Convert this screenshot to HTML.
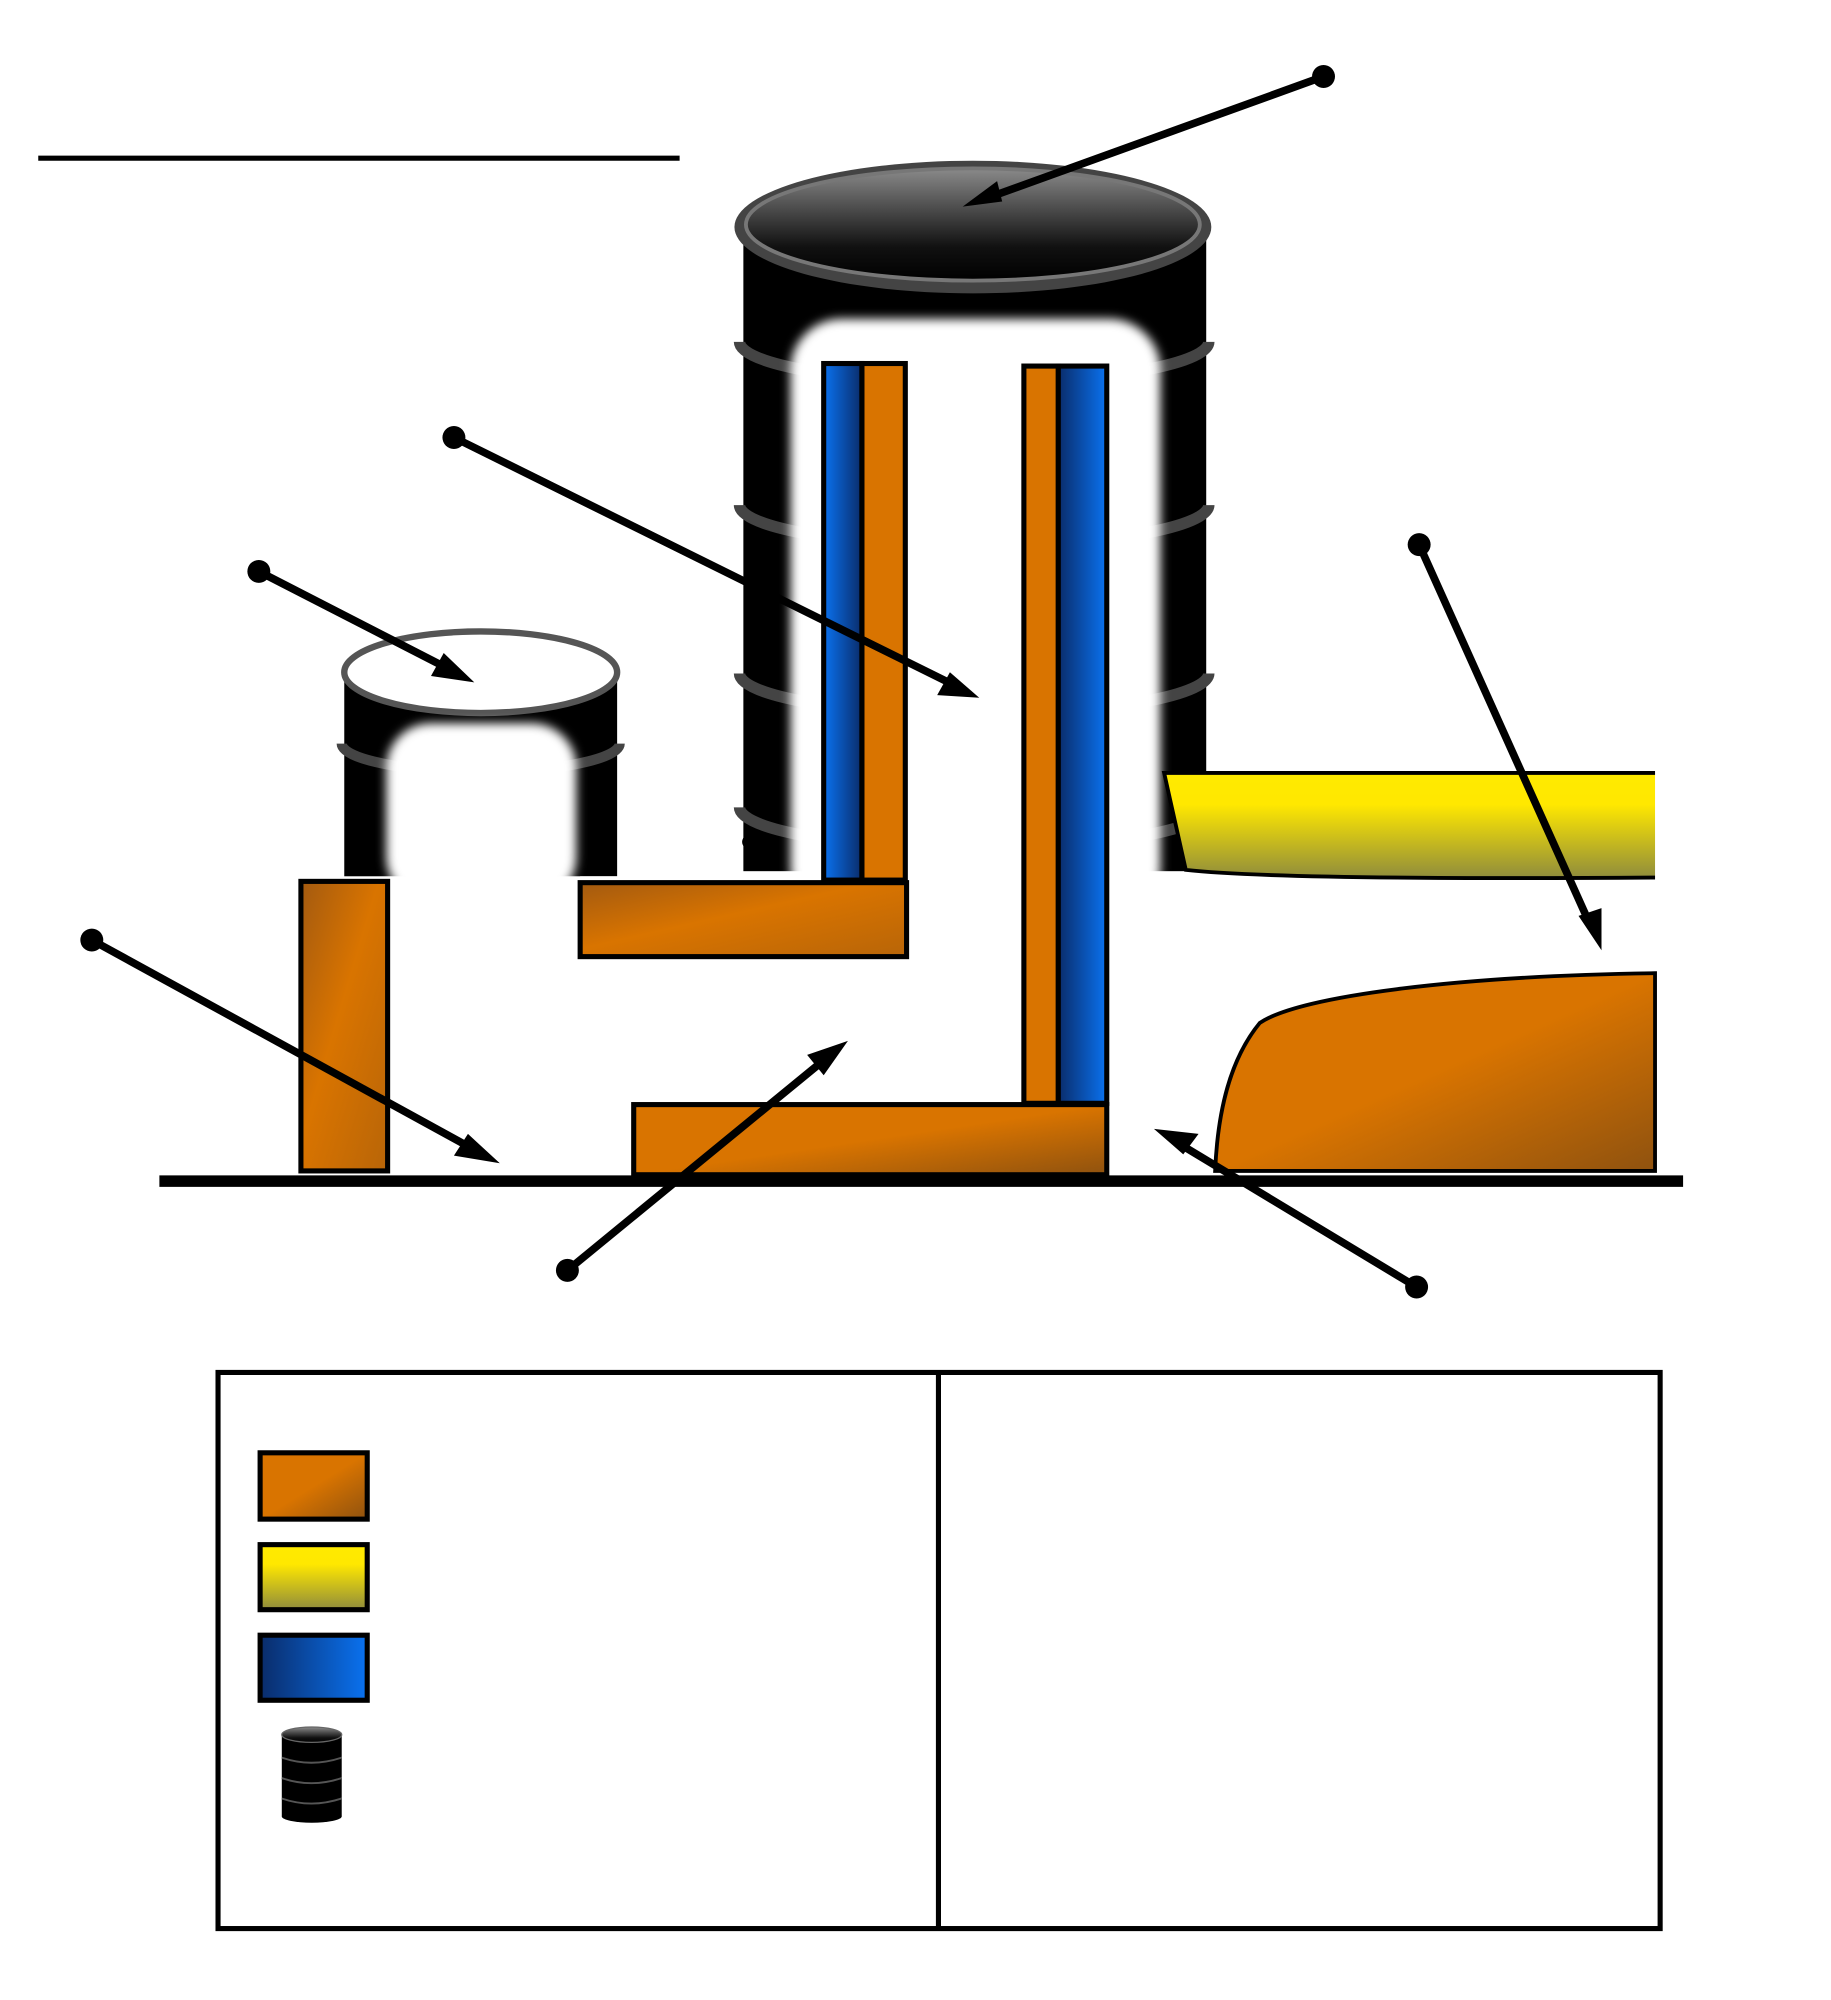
<!DOCTYPE html>
<html><head><meta charset="utf-8"><style>html,body{margin:0;padding:0;background:#fff}svg{display:block}</style></head>
<body>
<svg width="1831" height="2000" viewBox="0 0 1436 1568" preserveAspectRatio="none" xmlns="http://www.w3.org/2000/svg">
<defs>
<linearGradient id="or" x1="0" y1="0" x2="1" y2="1"><stop offset="0" stop-color="#a35a10"/><stop offset="0.45" stop-color="#d97400"/><stop offset="1" stop-color="#b86508"/></linearGradient>
<linearGradient id="or2" x1="0" y1="0" x2="1" y2="1"><stop offset="0" stop-color="#d97400"/><stop offset="0.5" stop-color="#d97400"/><stop offset="1" stop-color="#8f520f"/></linearGradient>
<linearGradient id="ye" x1="0" y1="0" x2="0" y2="1"><stop offset="0" stop-color="#ffea00"/><stop offset="0.3" stop-color="#ffe800"/><stop offset="1" stop-color="#8f8c3c"/></linearGradient>
<linearGradient id="bl" x1="0" y1="0" x2="1" y2="0"><stop offset="0" stop-color="#0a2c6a"/><stop offset="1" stop-color="#0a72f0"/></linearGradient>
<linearGradient id="bl2" x1="1" y1="0" x2="0" y2="0"><stop offset="0" stop-color="#0a2c6a"/><stop offset="1" stop-color="#0a72f0"/></linearGradient>
<linearGradient id="top" x1="0" y1="0" x2="0" y2="1"><stop offset="0" stop-color="#8a8a8a"/><stop offset="0.7" stop-color="#111"/><stop offset="1" stop-color="#000"/></linearGradient>
<filter id="blur"><feGaussianBlur stdDeviation="4"/></filter>
</defs>
<line x1="30" y1="124" x2="533" y2="124" stroke="#000" stroke-width="4"/>
<!-- big barrel -->
<rect x="583" y="178" width="363" height="505" fill="#000"/>
<ellipse cx="764" cy="660" rx="182" ry="30" fill="#000"/>
<g fill="none" stroke="#444" stroke-width="9">
<path d="M580,268 A184,32 0 0 0 948,268"/>
<path d="M580,396 A184,32 0 0 0 948,396"/>
<path d="M580,528 A184,32 0 0 0 948,528"/>
<path d="M580,633 A184,32 0 0 0 948,633"/>
</g>
<ellipse cx="763" cy="178" rx="187" ry="52" fill="#444"/>
<ellipse cx="763" cy="176" rx="178" ry="44" fill="url(#top)" stroke="#777" stroke-width="3"/>
<rect x="620" y="250" width="290" height="470" rx="40" fill="#fff" filter="url(#blur)"/>
<!-- small barrel -->
<rect x="270" y="527" width="214" height="160" fill="#000"/>
<path d="M268,583 A109,22 0 0 0 486,583" fill="none" stroke="#444" stroke-width="8"/>
<ellipse cx="377" cy="527" rx="107" ry="32" fill="#fff" stroke="#555" stroke-width="5"/>
<rect x="303" y="567" width="149" height="140" rx="35" fill="#fff" filter="url(#blur)"/>
<rect x="455" y="687" width="40" height="8" fill="#fff"/>
<g stroke="#000" stroke-width="4">
<rect x="236" y="691" width="68" height="227" fill="url(#or)"/>
<rect x="455" y="692" width="256" height="58" fill="url(#or)"/>
<rect x="646" y="285" width="30" height="405" fill="url(#bl2)"/>
<rect x="676" y="285" width="34" height="405" fill="#d97400"/>
<rect x="803" y="287" width="27" height="578" fill="#d97400"/>
<rect x="830" y="287" width="38" height="578" fill="url(#bl)"/>
<rect x="497" y="866" width="371" height="55" fill="url(#or2)"/>
<path d="M913,606 L1298,606 L1298,688 Q1000,690 930,682 Z" fill="url(#ye)" stroke="none"/>
<path d="M1298,606 L913,606 L930,682 Q1000,690 1298,688" fill="none" stroke-width="3"/>
<path d="M953,918 C955,870 965,830 988,802 C1020,780 1150,765 1298,763 L1298,918 Z" fill="url(#or2)" stroke-width="3"/>
</g>
<line x1="125" y1="926" x2="1320" y2="926" stroke="#000" stroke-width="9"/>
<!-- arrows -->
<g stroke="#000" stroke-width="6" fill="#000">
<line x1="1038" y1="60" x2="775" y2="155"/><circle cx="1038" cy="60" r="9" stroke="none"/>
<line x1="356" y1="343" x2="750" y2="538"/><circle cx="356" cy="343" r="9" stroke="none"/>
<line x1="203" y1="448" x2="355" y2="526"/><circle cx="203" cy="448" r="9" stroke="none"/>
<line x1="1113" y1="427" x2="1248" y2="727"/><circle cx="1113" cy="427" r="9" stroke="none"/>
<line x1="72" y1="737" x2="375" y2="903"/><circle cx="72" cy="737" r="9" stroke="none"/>
<line x1="445" y1="996" x2="650" y2="828"/><circle cx="445" cy="996" r="9" stroke="none"/>
<line x1="1111" y1="1009" x2="922" y2="895"/><circle cx="1111" cy="1009" r="9" stroke="none"/>
</g>
<g fill="#000">
<polygon points="755,162 782,142 786,158"/>
<polygon points="768,547 735,545 745,527"/>
<polygon points="372,535 338,530 348,512"/>
<polygon points="1256,745 1238,718 1256,712"/>
<polygon points="392,912 356,906 367,889"/>
<polygon points="665,816 646,843 633,827"/>
<polygon points="905,885 940,889 928,905"/>
</g>
<!-- legend -->
<g stroke="#000" stroke-width="4">
<rect x="171" y="1076" width="1131" height="436" fill="none"/>
<line x1="736" y1="1076" x2="736" y2="1512"/>
<rect x="204" y="1139" width="84" height="52" fill="url(#or2)"/>
<rect x="204" y="1211" width="84" height="51" fill="url(#ye)"/>
<rect x="204" y="1282" width="84" height="51" fill="url(#bl)"/>
</g>
<rect x="221" y="1360" width="47" height="64" fill="#000"/>
<ellipse cx="244.5" cy="1424" rx="23.5" ry="5" fill="#000"/>
<g fill="none" stroke="#555" stroke-width="1.5"><path d="M221,1378 Q244,1386 268,1378"/><path d="M221,1394 Q244,1402 268,1394"/><path d="M221,1410 Q244,1418 268,1410"/></g>
<ellipse cx="244.5" cy="1360" rx="23.5" ry="6" fill="url(#top)" stroke="#666"/>
</svg>
</body></html>
